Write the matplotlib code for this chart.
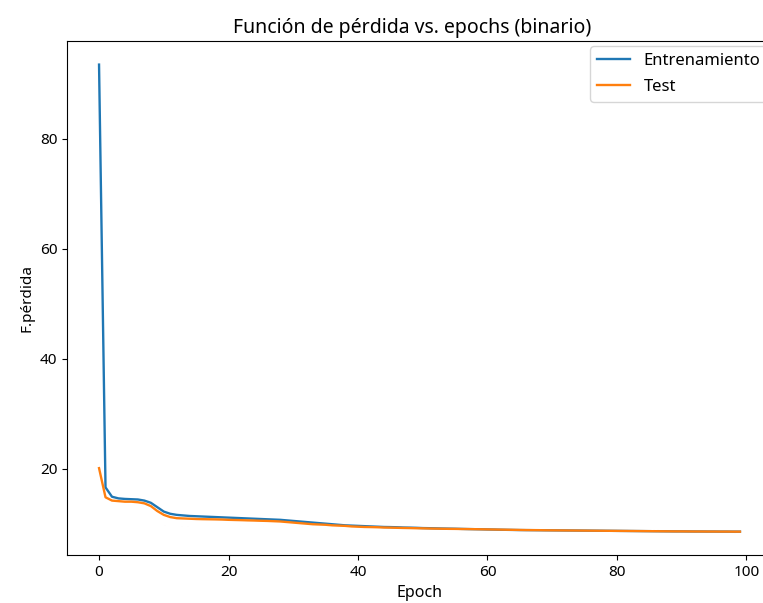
import matplotlib
matplotlib.use("Agg")
import matplotlib.pyplot as plt

plt.rcParams["font.family"] = ["Noto Sans", "DejaVu Sans"]

# Loss per epoch for the binary model
train_loss = [
    93.5, 16.6, 14.9, 14.6, 14.5, 14.45, 14.4, 14.2, 13.8, 13.0,
    12.2, 11.8, 11.6, 11.5, 11.4, 11.35, 11.3, 11.25, 11.2, 11.15,
    11.1, 11.05, 11.0, 10.95, 10.9, 10.85, 10.8, 10.75, 10.7, 10.6,
    10.5, 10.4, 10.3, 10.2, 10.1, 10.0, 9.9, 9.8, 9.7, 9.65,
    9.6, 9.55, 9.5, 9.45, 9.4, 9.38, 9.35, 9.3, 9.28, 9.25,
    9.2, 9.18, 9.15, 9.12, 9.1, 9.08, 9.05, 9.02, 9.0, 8.98,
    8.95, 8.93, 8.9, 8.88, 8.86, 8.84, 8.83, 8.82, 8.81, 8.8,
    8.79, 8.78, 8.77, 8.76, 8.75, 8.74, 8.73, 8.72, 8.71, 8.7,
    8.69, 8.68, 8.67, 8.66, 8.65, 8.64, 8.63, 8.62, 8.61, 8.6,
    8.6, 8.59, 8.58, 8.58, 8.57, 8.57, 8.56, 8.56, 8.55, 8.55,
]
test_loss = [
    20.1, 14.8, 14.2, 14.1, 14.0, 14.0, 13.9, 13.7, 13.2, 12.3,
    11.6, 11.2, 11.0, 10.95, 10.9, 10.85, 10.82, 10.8, 10.78, 10.75,
    10.7, 10.67, 10.64, 10.6, 10.57, 10.53, 10.5, 10.45, 10.4, 10.3,
    10.2, 10.1, 10.0, 9.9, 9.85, 9.8, 9.7, 9.65, 9.6, 9.5,
    9.45, 9.4, 9.38, 9.35, 9.3, 9.28, 9.25, 9.22, 9.2, 9.17,
    9.15, 9.12, 9.1, 9.08, 9.06, 9.05, 9.03, 9.02, 9.0, 8.98,
    8.96, 8.94, 8.92, 8.9, 8.88, 8.86, 8.84, 8.83, 8.82, 8.8,
    8.79, 8.78, 8.77, 8.76, 8.75, 8.74, 8.73, 8.72, 8.71, 8.7,
    8.69, 8.68, 8.67, 8.66, 8.65, 8.64, 8.63, 8.62, 8.61, 8.6,
    8.6, 8.59, 8.58, 8.58, 8.57, 8.57, 8.56, 8.56, 8.55, 8.55,
]
epochs = list(range(len(train_loss)))

fig = plt.figure(figsize=(7.63, 6.03), dpi=100)
ax = fig.add_axes([0.0878, 0.0796, 0.924, 0.852])

ax.plot(epochs, train_loss, color="#1f77b4", label="Entrenamiento", lw=1.7)
ax.plot(epochs, test_loss, color="#ff7f0e", label="Test", lw=1.7)

ax.set_title("Función de pérdida vs. epochs (binario)", fontsize=14, x=0.49)
ax.set_xlabel("Epoch", fontsize=11.5)
ax.set_ylabel("F.pérdida", fontsize=11)
ax.set_xticks([0, 20, 40, 60, 80, 100])
ax.set_yticks([20, 40, 60, 80])
ax.tick_params(labelsize=11)
ax.legend(loc="upper right", fontsize=12, borderaxespad=0.3, labelspacing=0.6)

fig.savefig("out.png", dpi=100)
